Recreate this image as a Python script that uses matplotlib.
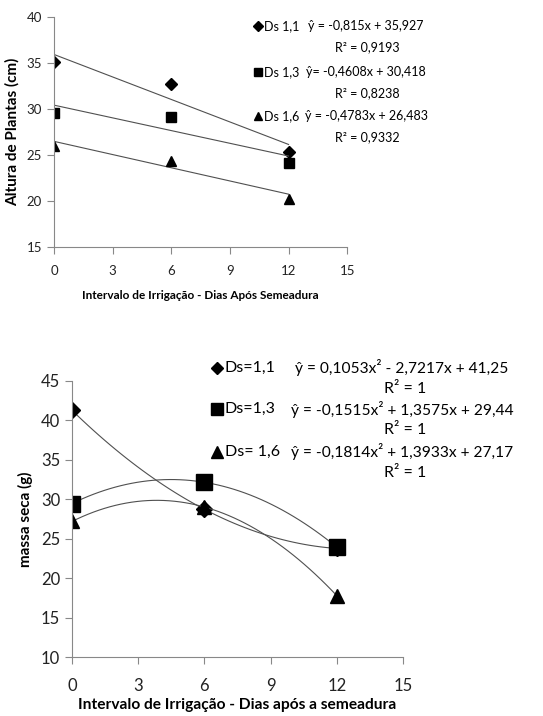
import numpy as np
import matplotlib.pyplot as plt

plt.rcParams['font.family'] = ['Lato', 'DejaVu Sans']

# top chart: plant height (cm)
x_top = [0, 6, 12]
alt_11 = [35.1, 32.7, 25.3]
alt_13 = [29.6, 29.1, 24.1]
alt_16 = [26.0, 24.4, 20.2]
top_eq = [(-0.815, 35.927), (-0.4608, 30.418), (-0.4783, 26.483)]
top_labels = ['Ds 1,1', 'Ds 1,3', 'Ds 1,6']
top_eq_txt = ['\u0177 = -0,815x + 35,927', '\u0177= -0,4608x + 30,418', '\u0177 = -0,4783x + 26,483']
top_r2 = ['R\u00b2 = 0,9193', 'R\u00b2 = 0,8238', 'R\u00b2 = 0,9332']

# bottom chart: dry mass (g)
x_bot = [0, 6, 12]
ms_11 = [41.25, 28.71, 23.75]
ms_13 = [29.44, 32.13, 23.91]
ms_16 = [27.17, 29.0, 17.77]
bot_labels = ['Ds=1,1', 'Ds=1,3', 'Ds= 1,6']
bot_eq_txt = ['\u0177 = 0,1053x\u00b2 - 2,7217x + 41,25',
              '\u0177 = -0,1515x\u00b2 + 1,3575x + 29,44',
              '\u0177 = -0,1814x\u00b2 + 1,3933x + 27,17']
bot_r2 = ['R\u00b2 = 1', 'R\u00b2 = 1', 'R\u00b2 = 1']

markers = ['D', 's', '^']
msize_top = [6, 7, 7.5]
msize_bot = [8, 11, 10]
lc = '#505050'

fig = plt.figure(figsize=(5.43, 7.16), dpi=100)

def style(ax, fs, pad):
    for s in ['top', 'right']:
        ax.spines[s].set_visible(False)
    for s in ['left', 'bottom']:
        ax.spines[s].set_color('#888888')
        ax.spines[s].set_linewidth(0.8)
    ax.tick_params(axis='both', direction='out', length=5, color='#888888',
                   labelsize=fs, labelcolor='#222222')
    ax.tick_params(axis='x', pad=pad)

# ---- top
ax1 = fig.add_axes([0.0994, 0.655, 0.540, 0.3213])
xx = np.linspace(0, 12, 50)
for ys, (a, b), m, ms in zip([alt_11, alt_13, alt_16], top_eq, markers, msize_top):
    ax1.plot(xx, a*xx + b, color=lc, lw=0.8)
    ax1.plot(x_top, ys, m, color='black', ms=ms, ls='none')
ax1.set_xlim(0, 15)
ax1.set_ylim(15, 40)
ax1.set_xticks([0, 3, 6, 9, 12, 15])
ax1.set_yticks([15, 20, 25, 30, 35, 40])
style(ax1, 9.5, 8)
ax1.set_ylabel('Altura de Plantas (cm)', fontsize=11, fontweight='bold', labelpad=5)
ax1.set_xlabel('Intervalo de Irrigação - Dias Após Semeadura', fontsize=8.5,
               fontweight='bold', labelpad=9)

top_rows = [26, 72, 116]
for i in range(3):
    yf = 1 - top_rows[i]/716
    fig.lines.append(plt.Line2D([258/543], [yf], marker=markers[i], color='black',
                                ms=msize_top[i]*0.85, transform=fig.transFigure))
    fig.text(264/543, yf, top_labels[i], fontsize=9, va='center', ha='left')
    fig.text(366/543, yf, top_eq_txt[i], fontsize=9, va='center', ha='center')
    fig.text(367/543, yf - 21/716, top_r2[i], fontsize=9, va='center', ha='center')

# ---- bottom
ax2 = fig.add_axes([0.1326, 0.0824, 0.6096, 0.3859])
for ys, m, ms in zip([ms_11, ms_13, ms_16], markers, msize_bot):
    c = np.polyfit(x_bot, ys, 2)
    ax2.plot(xx, np.polyval(c, xx), color=lc, lw=0.8)
    ax2.plot(x_bot, ys, m, color='black', ms=ms, ls='none')
ax2.set_xlim(0, 15)
ax2.set_ylim(10, 45)
ax2.set_xticks([0, 3, 6, 9, 12, 15])
ax2.set_yticks([10, 15, 20, 25, 30, 35, 40, 45])
style(ax2, 12, 10)
ax2.set_ylabel('massa seca (g)', fontsize=11, fontweight='bold', labelpad=6)
ax2.set_xlabel('Intervalo de Irrigação - Dias após a semeadura', fontsize=11.2,
               fontweight='bold', labelpad=3)

bot_rows = [368, 409, 452]
for i in range(3):
    yf = 1 - bot_rows[i]/716
    fig.lines.append(plt.Line2D([217/543], [yf], marker=markers[i], color='black',
                                ms=msize_bot[i]*0.8, transform=fig.transFigure))
    fig.text(225/543, yf, bot_labels[i], fontsize=11.5, va='center', ha='left')
    fig.text(402/543, yf, bot_eq_txt[i], fontsize=11.2, va='center', ha='center')
    fig.text(405/543, yf - 21/716, bot_r2[i], fontsize=11.5, va='center', ha='center')

fig.savefig('out.png', dpi=100)
